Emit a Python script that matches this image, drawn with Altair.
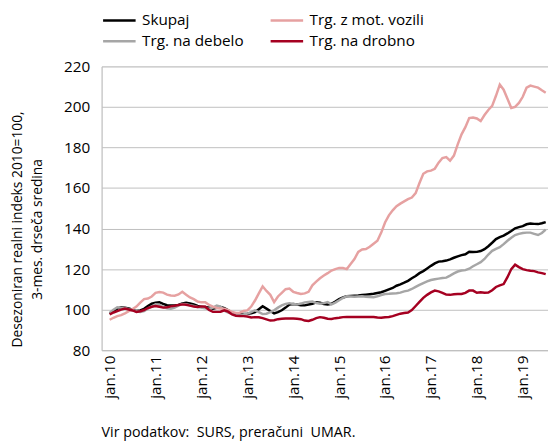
import altair as alt
import pandas as pd

series_names = ["Skupaj", "Trg. z mot. vozili", "Trg. na debelo", "Trg. na drobno"]
series_colors = ["#000000", "#e6a1a1", "#a6a6a6", "#a50021"]

skupaj = [98.0, 99.3, 100.5, 101.2, 101.0, 100.6, 100.0, 99.3, 99.6, 100.4, 101.8, 102.9,
          103.4, 103.6, 102.8, 102.2, 102.0, 102.1, 102.3, 103.0, 103.4, 103.0, 102.6, 101.8,
          101.3, 101.3, 101.0, 100.5, 100.9, 101.3, 100.7, 99.7, 98.2, 97.4, 97.7, 97.9,
          98.0, 98.2, 98.8, 100.2, 101.7, 100.5, 99.3, 98.1, 98.8, 99.7, 101.0, 102.5,
          102.8, 102.5, 102.2, 102.1, 102.5, 102.9, 103.6, 103.4, 102.8, 102.5, 102.9, 104.0,
          105.2, 106.0, 106.6, 106.8, 106.9, 107.0, 107.2, 107.4, 107.6, 107.8, 108.2, 108.6,
          109.3, 110.0, 110.7, 111.8, 112.5, 113.3, 114.2, 115.5, 116.6, 118.0, 119.0, 120.3,
          121.6, 122.8, 123.7, 123.9, 124.2, 124.8, 125.6, 126.3, 126.9, 127.3, 128.6, 128.4,
          128.5, 128.9, 129.8, 131.3, 133.0, 134.8, 135.8, 136.5, 137.6, 138.8, 140.1, 140.7,
          141.2, 142.1, 142.5, 142.3, 142.2, 142.6, 143.2]

mot_vozila = [95.0, 96.0, 96.8, 97.3, 98.2, 99.2, 100.3, 101.5, 103.5, 105.2, 105.5, 106.5,
              108.3, 108.7, 108.4, 107.4, 107.0, 106.9, 107.5, 108.8, 107.4, 106.0, 105.2, 104.0,
              103.6, 103.7, 102.3, 101.5, 100.8, 100.6, 100.4, 99.8, 98.9, 98.4, 98.5, 99.3,
              99.6, 101.5, 104.5, 108.0, 111.5, 109.2, 107.3, 103.7, 106.5, 108.3, 110.1, 110.4,
              108.8, 108.2, 107.7, 108.0, 108.8, 112.0, 113.8, 115.5, 116.8, 118.0, 119.3, 120.0,
              120.6, 120.5, 120.0, 122.5, 125.0, 128.5, 129.7, 129.9, 131.0, 132.5, 134.0, 138.0,
              143.0, 146.5, 149.0, 151.0, 152.3, 153.4, 154.5, 155.3, 157.5, 162.5, 167.0, 168.2,
              168.6, 169.5, 172.5, 174.8, 175.3, 173.5, 176.0, 181.5, 186.5, 190.0, 194.5, 194.8,
              194.3, 193.0, 196.0, 198.5, 200.5, 205.5, 211.0, 208.5, 204.0, 199.5, 200.0, 202.0,
              205.0, 209.5, 210.5, 210.0, 209.5, 208.2, 207.0]

debelo = [98.4, 100.0, 101.2, 101.0, 100.8, 100.2, 99.7, 99.2, 98.8, 99.3, 100.5, 101.5,
          102.6, 102.4, 101.3, 100.7, 100.5, 101.0, 102.0, 102.8, 102.7, 102.2, 101.8, 101.3,
          101.0, 100.7, 100.5, 101.0, 102.0, 101.5, 99.5, 98.6, 98.0, 97.6, 97.2, 97.6,
          98.0, 98.8, 99.7, 98.8, 97.8, 98.0, 98.8, 99.7, 101.0, 102.1, 102.8, 103.2,
          102.8, 102.5, 103.0, 103.6, 103.8, 104.0, 103.3, 102.9, 103.2, 103.7, 102.6, 103.5,
          104.6, 105.8, 106.6, 106.5, 106.4, 106.5, 106.6, 106.4, 106.2, 106.1, 106.6, 107.2,
          107.7, 107.8, 108.0, 108.1, 108.4, 109.0, 109.4, 110.2, 111.2, 112.2, 113.1, 113.9,
          114.6, 115.0, 115.3, 115.6, 115.8, 116.8, 117.9, 118.8, 119.3, 119.5, 120.2, 121.4,
          122.4, 123.4, 125.0, 127.2, 129.0, 130.0, 130.8, 132.3, 134.0, 135.5, 136.8, 137.4,
          137.8, 138.0, 138.0, 137.4, 136.8, 137.8, 139.5]

drobno = [97.6, 98.6, 99.3, 100.0, 100.5, 100.1, 99.6, 98.9, 99.2, 99.8, 100.8, 101.4,
          101.8, 101.4, 101.0, 101.2, 101.6, 101.9, 102.3, 102.6, 102.4, 102.0, 101.5, 101.3,
          101.6, 101.4, 99.8, 98.9, 98.9, 99.0, 99.7, 99.0, 97.6, 97.0, 96.9, 96.8,
          96.6, 96.1, 96.3, 96.2, 95.8, 95.2, 94.6, 94.8, 95.3, 95.5, 95.6, 95.6,
          95.6, 95.5, 95.3, 94.6, 94.4, 95.0, 95.8, 96.3, 96.0, 95.5, 95.4, 95.8,
          96.0, 96.3, 96.4, 96.4, 96.4, 96.4, 96.4, 96.4, 96.4, 96.4, 96.1, 96.0,
          96.2, 96.4, 96.8, 97.4, 98.0, 98.3, 98.6, 99.8, 101.8, 103.8, 105.8, 107.3,
          108.5, 109.4, 109.0, 108.3, 107.4, 107.3, 107.6, 107.7, 107.7, 108.3, 109.4, 109.4,
          108.3, 108.6, 108.3, 108.4, 109.6, 111.2, 112.0, 112.6, 116.0, 120.0, 122.2, 121.0,
          120.0, 119.5, 119.2, 119.0, 118.4, 118.0, 117.5]

y_ticks = [80, 100, 120, 140, 160, 180, 200, 220]
x_tick_months = [0, 12, 24, 36, 48, 60, 72, 84, 96, 108]

rows = []
for name, vals in [("Skupaj", skupaj), ("Trg. na debelo", debelo),
                   ("Trg. z mot. vozili", mot_vozila), ("Trg. na drobno", drobno)]:
    for i, v in enumerate(vals):
        rows.append({"m": i, "serija": name, "v": v, "ord": series_names.index(name)})
df = pd.DataFrame(rows)

FONT = "Open Sans"
FS = 15.5

lines = alt.Chart(df).mark_line(strokeWidth=2.5, clip=True).encode(
    x=alt.X("m:Q", scale=alt.Scale(domain=[-2.1, 114.6], nice=False, zero=False),
            axis=alt.Axis(values=x_tick_months, labelExpr="'jan.' + (10 + datum.value/12)",
                          labelAngle=-90, labelFontSize=FS, labelFont=FONT, labelColor="#000000",
                          labelPadding=5, ticks=False, grid=False, domainColor="#bfbfbf",
                          title=None)),
    y=alt.Y("v:Q", scale=alt.Scale(domain=[80, 220], nice=False, zero=False),
            axis=alt.Axis(values=y_ticks, labelFontSize=FS, labelFont=FONT, labelColor="#000000",
                          labelPadding=12, ticks=False, grid=True, gridColor="#bfbfbf",
                          domainColor="#bfbfbf",
                          title=["Desezoniran realni indeks 2010=100,", "3-mes. drseča sredina"],
                          titleFont=FONT, titleFontSize=14, titleFontWeight="normal",
                          titleColor="#000000", titleAngle=-90, titleAlign="center",
                          titleBaseline="top", titleX=-92, titleY=165, titleLineHeight=20)),
    color=alt.Color("serija:N", scale=alt.Scale(domain=series_names, range=series_colors),
                    legend=alt.Legend(title=None, orient="none", legendX=0, legendY=-57,
                                      columns=2, columnPadding=25, rowPadding=0, clipHeight=21,
                                      symbolType="stroke", symbolSize=1089, symbolStrokeWidth=2.5,
                                      labelFont=FONT, labelFontSize=FS, labelColor="#000000",
                                      labelOffset=5, direction="horizontal")),
    order=alt.Order("ord:Q"),
)

src = pd.DataFrame({"t": ["Vir podatkov:\u00a0 SURS, preračuni\u00a0 UMAR."]})
source = alt.Chart(src).mark_text(align="left", baseline="middle", font=FONT, fontSize=FS - 1,
                                  color="#000000").encode(
    text="t:N", x=alt.value(0), y=alt.value(372))

chart = alt.layer(lines, source).properties(
    width=453, height=288,
    autosize=alt.AutoSizeParams(type="none"),
    padding={"left": 95, "top": 56, "right": 0, "bottom": 95},
).configure_view(stroke=None).configure(background="white")

chart.save("out.html", embed_options={"renderer": "svg", "actions": False})
